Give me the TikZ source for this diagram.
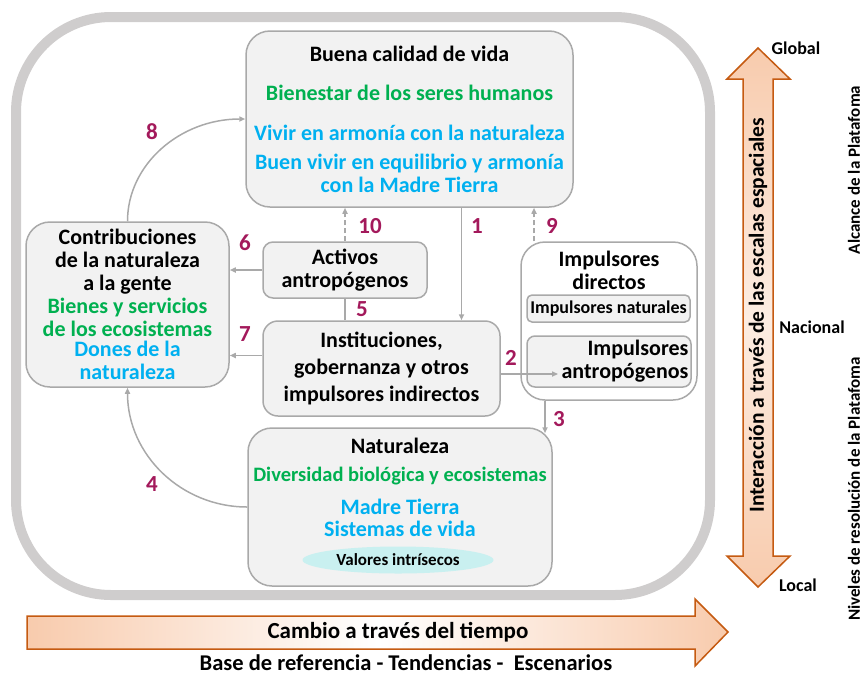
\documentclass[tikz,border=0pt]{standalone}
\usepackage{fontspec}
\setmainfont{Carlito}
\usetikzlibrary{arrows.meta,shapes.geometric,positioning}

\definecolor{ipGreen}{HTML}{00B050}
\definecolor{ipCyan}{HTML}{00B0F0}
\definecolor{ipNum}{HTML}{A3195B}
\definecolor{ipLine}{HTML}{A9A9A9}
\definecolor{ipFill}{HTML}{F2F2F2}
\definecolor{ipBand}{HTML}{CFCDCD}
\definecolor{ipOrange}{HTML}{C55A11}
\definecolor{ipPeach}{HTML}{F8CBAD}
\definecolor{ipOval}{HTML}{C9F0F0}

\begin{document}
\begin{tikzpicture}[x=1pt, y=-1pt,
    font=\bfseries\fontsize{22}{23}\selectfont,
    box/.style={draw=ipLine, fill=ipFill, line width=1.5pt, rounded corners=#1, inner sep=0pt, align=center},
    box/.default=24pt,
    conn/.style={draw=ipLine, line width=1.5pt, -{Triangle[length=6pt,width=5pt]}},
    link/.style={draw=ipLine, line width=1.5pt},
    gap/.style={dash pattern=on 5pt off 3pt},
    num/.style={text=ipNum, font=\bfseries\fontsize{23}{25}\selectfont},
    side/.style={font=\bfseries\fontsize{18}{20}\selectfont},
    note/.style={font=\bfseries\fontsize{17}{19}\selectfont, rotate=90},
    bigarrow/.style={draw=ipOrange, line width=1.5pt},
]
\useasboundingbox (0,0) rectangle (866,675);

% outer frame
\draw[ipBand, line width=10pt, rounded corners=95pt] (16,17) rectangle (710,595);

% boxes
\node[box, minimum width=327pt, minimum height=176pt] (buena) at (409.5,119) {Buena calidad de vida\\[16pt]
  \textcolor{ipGreen}{Bienestar de los seres humanos}\\[17pt]
  \textcolor{ipCyan}{Vivir en armonía con la naturaleza}\\[6pt]
  \textcolor{ipCyan}{Buen vivir en equilibrio y armonía}\\
  \textcolor{ipCyan}{con la Madre Tierra}};
\node[box, minimum width=203pt, minimum height=165pt] (contrib) at (127.5,304.5) {Contribuciones\\de la naturaleza\\a la gente\\
  \textcolor{ipGreen}{Bienes y servicios}\\\textcolor{ipGreen}{de los ecosistemas}\\[-3pt]
  \textcolor{ipCyan}{Dones de la}\\\textcolor{ipCyan}{naturaleza}};
\node[box=10pt, minimum width=164pt, minimum height=56pt] (act) at (345,270) {Activos\\antropógenos};
\node[box=15pt, minimum width=237pt, minimum height=95pt, font=\bfseries\fontsize{22}{27}\selectfont] (inst) at (381.5,368.5) {Instituciones,\\gobernanza y otros\\impulsores indirectos};

\node[box, fill=white, minimum width=176pt, minimum height=158pt] (drv) at (609,321) {};
\node[align=center] (drvtxt) at (609,270) {Impulsores\\directos};
\node[box=5pt, minimum width=163pt, minimum height=27pt, font=\bfseries\fontsize{18}{20}\selectfont] (natdrv) at (608.5,308.5) {Impulsores naturales};
\node[box=8pt, minimum width=164pt, minimum height=51pt] (antro) at (609,361.5) {};
\node[align=right] (antrotxt) at (625,361.5) {Impulsores\\antropógenos};

\node[box, minimum width=304pt, minimum height=158pt] (nat) at (400,507) {};
\node[align=center] (nattxt) at (400,487.5) {Naturaleza\\[5pt]
  \textcolor{ipGreen}{\fontsize{20.5}{23}\selectfont Diversidad biológica y ecosistemas}\\[10pt]
  \textcolor{ipCyan}{Madre Tierra}\\[-1pt]\textcolor{ipCyan}{Sistemas de vida}};
\node[ellipse, fill=ipOval, minimum width=191pt, minimum height=27pt, inner sep=0pt, font=\bfseries\fontsize{17}{19}\selectfont] (valores) at (398,560) {Valores intrísecos};

% connectors
\coordinate (b1) at ([xshift=52pt]buena.south);
\coordinate (d9) at ([xshift=-75pt]drv.north);
\coordinate (i7) at ([yshift=13pt]inst.west);
\coordinate (i2) at ([yshift=-5.5pt]inst.east);
\coordinate (d3) at ([xshift=-64pt]drv.south);
\path (d3 |- nat.north) ++(0,6) coordinate (n3);

\draw[conn] (b1) -- (b1 |- inst.north);
\draw[conn, gap] (act.north) -- (act.north |- buena.south);
\draw[conn, gap] (d9) -- (d9 |- buena.south);
\draw[link] (act.south) -- (act.south |- inst.north);
\draw[conn] (act.west) -- (act.west -| contrib.east);
\draw[conn] (i7) -- (i7 -| contrib.east);
\draw[conn] (i2) -- (i2 -| antrotxt.west);
\draw[conn] (d3) -- (n3);
\draw[conn] (nat.west) .. controls +(-66,0) and +(0,67) .. (contrib.south);
\draw[conn] (contrib.north) .. controls +(0,-57) and +(-65,0) .. (buena.west);

% numbers
\node[num] (n8) at (152,132) {8};
\node[num] (n6) at (245,243) {6};
\node[num] (n7) at (245,334) {7};
\node[num] (n10) at (370,226) {10};
\node[num] (n1) at (477,226) {1};
\node[num] (n9) at (552,226) {9};
\node[num] (n5) at (362,309) {5};
\node[num] (n2) at (511,358) {2};
\node[num] (n3) at (559,419) {3};
\node[num] (n4) at (152,484) {4};

% spatial scale arrow
\draw[bigarrow, top color=ipPeach, bottom color=ipPeach, middle color=ipPeach!35]
  (743,79) -- (727,79) -- (758,48) -- (790,79) -- (773,79) -- (773,556)
  -- (790,556) -- (758,587) -- (727,556) -- (743,556) -- cycle;
\node[rotate=90, font=\bfseries\fontsize{21.5}{24}\selectfont] (scaletxt) at (758,315) {Interacción a través de las escalas espaciales};
\node[side] (glob) at (796,48) {Global};
\node[side] (nac) at (812,327) {Nacional};
\node[side] (loc) at (798,585) {Local};
\node[note] (alc) at (854,170) {Alcance de la Platafoma};
\node[note] (niv) at (854,489) {Niveles de resolución de la Platafoma};

% time arrow
\draw[bigarrow, left color=ipPeach, right color=ipPeach, middle color=white]
  (27,616) -- (695,616) -- (695,599) -- (728,632) -- (695,666) -- (695,649) -- (27,649) -- cycle;
\node[font=\bfseries\fontsize{23}{25}\selectfont] (timetxt) at (398,632) {Cambio a través del tiempo};
\node[inner sep=0pt, font=\bfseries\fontsize{22.5}{24}\selectfont] (basetxt) at (406,662.5) {Base de referencia - Tendencias -\ \ Escenarios};
\end{tikzpicture}
\end{document}
